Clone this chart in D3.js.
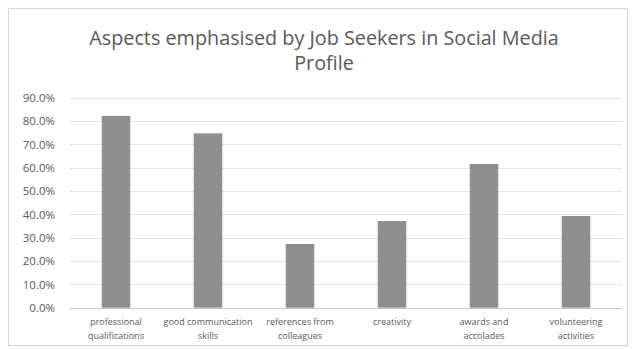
<!DOCTYPE html>
<html>
<head>
<meta charset="utf-8">
<script src="https://cdn.jsdelivr.net/npm/d3@7"></script>
<style>
  body { margin: 0; background: #fff; }
  svg { display: block; font-family: "Open Sans", "Liberation Sans", sans-serif; }
</style>
</head>
<body>
<div id="chart"></div>
<script>
// chart data
const categories = [
  ["professional", "qualifications"],
  ["good communication", "skills"],
  ["references from", "colleagues"],
  ["creativity"],
  ["awards and", "accolades"],
  ["volunteering", "activities"]
];
const values = [82.2, 74.7, 27.3, 37.2, 61.6, 39.3];
const yTicks = [0, 10, 20, 30, 40, 50, 60, 70, 80, 90];
const titleLines = ["Aspects emphasised by Job Seekers in Social Media", "Profile"];

const W = 632, H = 349;
const plot = {left: 70, right: 622, top: 97.7, bottom: 307.7};

const svg = d3.select("#chart").append("svg")
    .attr("width", W)
    .attr("height", H);

// outer chart border
svg.append("rect")
    .attr("x", 8.5).attr("y", 8.5)
    .attr("width", 619).attr("height", 337)
    .attr("fill", "#fff")
    .attr("stroke", "#d4d4d4");

// title
svg.append("text")
    .attr("x", 324)
    .attr("text-anchor", "middle")
    .attr("fill", "#595959")
    .style("font-size", "19.8px")
    .selectAll("tspan")
    .data(titleLines)
    .enter().append("tspan")
    .attr("x", 324)
    .attr("y", (d, i) => 45 + i * 25)
    .text(d => d);

// scales
const x = d3.scaleBand()
    .domain(d3.range(categories.length))
    .range([plot.left, plot.right])
    .paddingInner(0.69)
    .paddingOuter(0.345);

const y = d3.scaleLinear()
    .domain([0, 90])
    .range([plot.bottom, plot.top]);

// gridlines
svg.append("g")
    .selectAll("line")
    .data(yTicks)
    .enter().append("line")
    .attr("x1", plot.left).attr("x2", plot.right)
    .attr("y1", d => Math.round(y(d)) + 0.5)
    .attr("y2", d => Math.round(y(d)) + 0.5)
    .attr("stroke", d => d === 0 ? "#c8c8c8" : "#e3e3e3");

// y axis labels
const yAxis = svg.append("g")
    .attr("transform", `translate(${plot.left - 15},0)`)
    .call(d3.axisLeft(y).tickValues(yTicks).tickSize(0).tickPadding(0)
        .tickFormat(d => d.toFixed(1) + "%"));
yAxis.select(".domain").remove();
yAxis.selectAll("text")
    .attr("fill", "#595959")
    .style("font-size", "11.5px")
    .style("font-family", "'Open Sans', sans-serif");

// bars
svg.append("g")
    .selectAll("rect")
    .data(values)
    .enter().append("rect")
    .attr("x", (d, i) => x(i))
    .attr("y", d => y(d))
    .attr("width", x.bandwidth())
    .attr("height", d => y(0) - y(d))
    .attr("fill", "#8f8f8f");

// category labels (two lines)
const xl = svg.append("g");
categories.forEach((lines, i) => {
    const cx = x(i) + x.bandwidth() / 2;
    const t = xl.append("text")
        .attr("text-anchor", "middle")
        .attr("fill", "#595959")
        .style("font-size", "9px");
    lines.forEach((s, j) => {
        t.append("tspan")
            .attr("x", cx)
            .attr("y", 325 + j * 14)
            .text(s);
    });
});
</script>
</body>
</html>
